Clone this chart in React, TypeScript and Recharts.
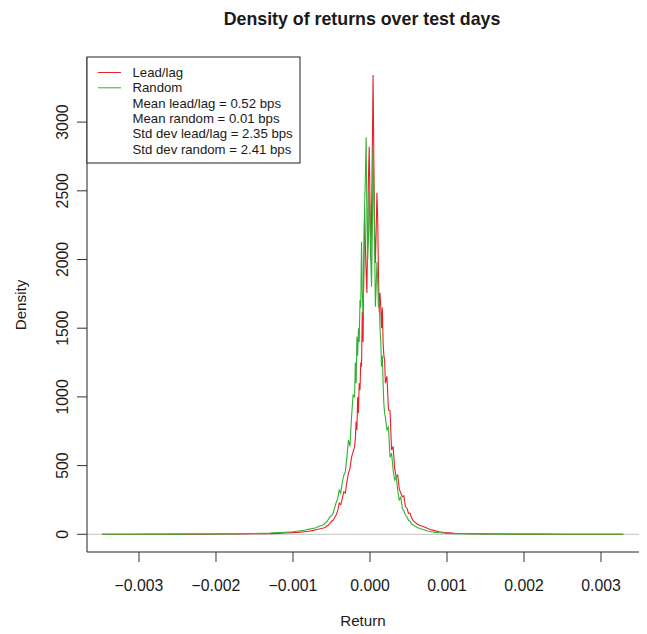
import React from "react";
import { LineChart, Line, XAxis, YAxis, ReferenceLine } from "recharts";

// Grid of returns at which both densities were evaluated
const returns = [
  -0.00348, -0.0033, -0.0031, -0.0029, -0.0027, -0.0025, -0.0023, -0.0021, -0.0019, -0.0017, -0.0015,
  -0.0013, -0.0012, -0.0011, -0.001, -0.0009, -0.00085, -0.0008, -0.00075, -0.0007, -0.00066, -0.00062,
  -0.0006, -0.00058, -0.00056, -0.00054, -0.00052, -0.0005, -0.00048, -0.00046, -0.00044, -0.00042,
  -0.0004, -0.00038, -0.00036, -0.00034, -0.00032, -0.0003, -0.00028, -0.00026, -0.00024, -0.00022,
  -0.0002, -0.00019, -0.00018, -0.00017, -0.00016, -0.00015, -0.00014, -0.00013, -0.00012, -0.00011,
  -0.0001, -0.00009, -0.00008, -0.00007, -0.00006, -0.00005, -0.00004, -0.00003, -0.00002, -0.00001,
  0, 0.00001, 0.00002, 0.00003, 0.00004, 0.00005, 0.00006, 0.00007, 0.00008, 0.00009,
  0.0001, 0.00011, 0.00012, 0.00013, 0.00014, 0.00015, 0.00016, 0.00017, 0.00018, 0.00019, 0.0002,
  0.00022, 0.00024, 0.00026, 0.00028, 0.0003, 0.00032, 0.00034, 0.00036, 0.00038, 0.0004,
  0.00042, 0.00044, 0.00046, 0.00048, 0.0005, 0.00052, 0.00054, 0.00056, 0.00058, 0.0006,
  0.00062, 0.00066, 0.0007, 0.00075, 0.0008, 0.00085, 0.0009, 0.00095, 0.001, 0.0011, 0.0012,
  0.0013, 0.0015, 0.0017, 0.0019, 0.0021, 0.0023, 0.0025, 0.0027, 0.0029, 0.0031, 0.00329,
];

const leadLag = [
  0.3, 0.4, 0.5, 0.6, 0.8, 1, 1.3, 1.6, 2, 2.5, 3.5, 5, 7, 9, 12, 16, 19, 22, 27, 33, 38, 44,
  46, 52, 60, 66, 80, 95, 102, 120, 140, 170, 228, 215, 260, 310, 300, 380, 446, 480, 560, 600,
  637, 700, 820, 760, 1000, 883, 1100, 1050, 1250, 1220, 1620, 1400, 2000, 2384, 2100, 1900, 1756,
  2200, 2600, 2821, 2400, 2000, 2300, 2800, 3343, 2700, 2200, 1975, 2200, 2486, 2300, 1900, 1620,
  1756, 1650, 1500, 1650, 1400, 1300, 1268, 1100,
  1150, 905, 900, 613, 640, 480, 419, 430, 330, 300, 274, 280, 200, 190, 153, 155, 120, 100, 90, 80,
  72, 62, 55, 42, 32, 25, 19, 15, 12, 8, 6, 4.5, 3, 2, 1.5, 1.2, 1, 0.8, 0.7, 0.6, 0.5, 0.4,
];

const random = [
  0.5, 0.6, 0.8, 1, 1.2, 1.5, 2, 2.5, 3, 4, 6, 9, 12, 15, 19, 26, 30, 36, 42, 48, 58, 66,
  70, 85, 92, 110, 128, 135, 152, 190, 230, 260, 322, 300, 380, 430, 456, 560, 686, 640, 850, 1014,
  1000, 1250, 1100, 1438, 1300, 1500, 1400, 1705, 1650, 2130, 1750, 1600, 1900, 2384, 2600, 2889,
  2300, 2000, 2150, 2500, 2300, 2000, 1802, 2200, 2821, 2500, 2100, 1656, 1800, 1984, 1850, 1650,
  1700, 1500, 1400, 1220, 1300, 1100, 950, 883, 850,
  760, 780, 560, 590, 470, 395, 420, 320, 250, 270, 190, 170, 140, 128, 100, 95, 75, 70, 60, 55,
  48, 40, 33, 24, 18, 14, 11, 9, 7, 5, 4, 3, 2, 1.5, 1.2, 1, 0.8, 0.7, 0.6, 0.5, 0.4, 0.3,
];

const xTicks = [-0.003, -0.002, -0.001, 0, 0.001, 0.002, 0.003];
const yTicks = [0, 500, 1000, 1500, 2000, 2500, 3000];

const legendLines = [
  { text: "Lead/lag", color: "#e8202a" },
  { text: "Random", color: "#33b033" },
  { text: "Mean lead/lag = 0.52 bps" },
  { text: "Mean random = 0.01 bps" },
  { text: "Std dev lead/lag = 2.35 bps" },
  { text: "Std dev random = 2.41 bps" },
];

const FONT = "'Liberation Sans', Arial, Helvetica, sans-serif";
const INK = "#1a1a1a";
const AXIS_FONT = 15.8;

const rows = returns.map((r, i) => ({ ret: r, leadLag: leadLag[i], random: random[i] }));

const fmtX = (v: number) => (v < 0 ? "\u2212" : "") + Math.abs(v).toFixed(3);

const XTick = (props: any) => {
  const { x, y, payload } = props;
  return (
    <text x={x} y={y + 21} textAnchor="middle" dominantBaseline="central" fontSize={AXIS_FONT} fill={INK} fontFamily={FONT}>
      {fmtX(payload.value)}
    </text>
  );
};

const YTick = (props: any) => {
  const { x, y, payload } = props;
  const cx = x - 12;
  return (
    <text
      x={cx}
      y={y}
      textAnchor="middle"
      dominantBaseline="central"
      fontSize={AXIS_FONT}
      fill={INK}
      fontFamily={FONT}
      transform={`rotate(-90 ${cx} ${y})`}
    >
      {payload.value}
    </text>
  );
};

export default function App() {
  const xDomain = [-0.0036753, 0.0034935];
  const yDomain = [-128.8, 3473.8];
  return (
    <div style={{ position: "absolute", left: 0, top: 0, width: 647, height: 634, background: "#fff", fontFamily: FONT }}>
      <LineChart width={647} height={634} data={rows} margin={{ top: 57, right: 8, bottom: 0, left: 0 }}>
        <XAxis
          dataKey="ret"
          type="number"
          domain={xDomain}
          allowDataOverflow
          ticks={xTicks}
          interval={0}
          height={82}
          tickSize={10}
          tick={<XTick />}
          tickLine={{ stroke: "#333" }}
          axisLine={{ stroke: "#222" }}
        />
        <XAxis
          xAxisId="top"
          orientation="top"
          type="number"
          domain={xDomain}
          height={0}
          tick={false}
          tickLine={false}
          axisLine={{ stroke: "#222" }}
        />
        <YAxis
          type="number"
          domain={yDomain}
          allowDataOverflow
          ticks={yTicks}
          interval={0}
          width={87}
          tickSize={10}
          tick={<YTick />}
          tickLine={{ stroke: "#333" }}
          axisLine={{ stroke: "#222" }}
        />
        <YAxis
          yAxisId="right"
          orientation="right"
          type="number"
          domain={yDomain}
          width={0}
          tick={false}
          tickLine={false}
          axisLine={{ stroke: "#222" }}
        />
        <ReferenceLine y={0} stroke="#c4c4c4" strokeWidth={1} />
        <Line
          type="linear"
          dataKey="leadLag"
          name="Lead/lag"
          stroke="#e8202a"
          strokeWidth={1.1}
          dot={false}
          isAnimationActive={false}
        />
        <Line
          type="linear"
          dataKey="random"
          name="Random"
          stroke="#33b033"
          strokeWidth={1.1}
          dot={false}
          isAnimationActive={false}
        />
      </LineChart>

      <svg width={647} height={634} style={{ position: "absolute", left: 0, top: 0, pointerEvents: "none" }}>
        <text x={362} y={19} textAnchor="middle" dominantBaseline="central" fontSize={17.8} fontWeight="bold" fill={INK} fontFamily={FONT}>
          Density of returns over test days
        </text>
        <text x={363} y={620} textAnchor="middle" dominantBaseline="central" fontSize={15.2} fill={INK} fontFamily={FONT}>
          Return
        </text>
        <text
          x={20}
          y={305}
          textAnchor="middle"
          dominantBaseline="central"
          fontSize={15.2}
          fill={INK}
          fontFamily={FONT}
          transform="rotate(-90 20 305)"
        >
          Density
        </text>

        <rect x={87} y={57} width={213} height={106} fill="#fff" stroke="#222" strokeWidth={1} />
        {legendLines.map((item, i) => {
          const cy = 72.5 + i * 15.3;
          return (
            <g key={item.text}>
              {item.color && <line x1={98} x2={121} y1={cy} y2={cy} stroke={item.color} strokeWidth={1} />}
              <text x={132.5} y={cy} dominantBaseline="central" fontSize={13.2} fill={INK} fontFamily={FONT}>
                {item.text}
              </text>
            </g>
          );
        })}
      </svg>
    </div>
  );
}
